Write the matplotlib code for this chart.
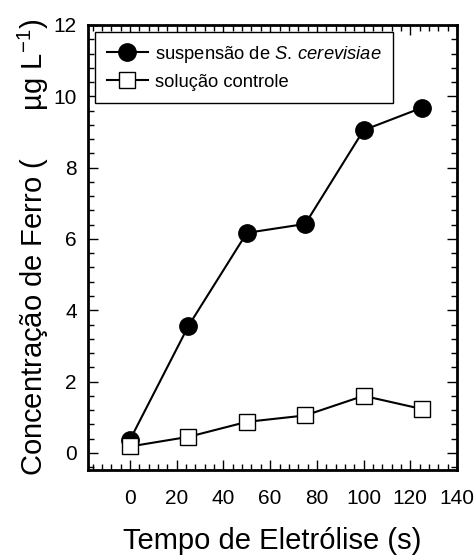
import matplotlib
matplotlib.use("Agg")
import matplotlib.pyplot as plt
from matplotlib.ticker import MultipleLocator

plt.rcParams['font.family'] = ['Liberation Sans', 'DejaVu Sans']
plt.rcParams['mathtext.fontset'] = 'custom'
plt.rcParams['mathtext.rm'] = 'Liberation Sans'
plt.rcParams['mathtext.it'] = 'Liberation Sans:italic'

tempo = [0, 25, 50, 75, 100, 125]
suspensao = [0.37, 3.56, 6.17, 6.42, 9.05, 9.68]
controle = [0.18, 0.45, 0.87, 1.05, 1.6, 1.23]
x_ticks = [0, 20, 40, 60, 80, 100, 120, 140]
y_ticks = [0, 2, 4, 6, 8, 10, 12]

fig = plt.figure(figsize=(4.75, 5.58), dpi=100)
ax = fig.add_axes([0.1853, 0.1577, 0.9621 - 0.1853, 0.9552 - 0.1577])

ax.plot(tempo, suspensao, color='black', lw=1.5, marker='o', ms=12.5,
        mfc='black', mec='black', label=r"suspensão de $\mathit{S.\,cerevisiae}$", zorder=3)
ax.plot(tempo, controle, color='black', lw=1.5, marker='s', ms=12,
        mfc='white', mec='black', mew=1.0, label="solução controle", zorder=4)

ax.set_xlim(-18, 140)
ax.set_ylim(-0.48, 12)
ax.set_xticks(x_ticks)
ax.set_yticks(y_ticks)
ax.xaxis.set_minor_locator(MultipleLocator(4))
ax.yaxis.set_minor_locator(MultipleLocator(0.4))
ax.tick_params(which='both', direction='in', top=True, right=True, width=1.0)
ax.tick_params(which='major', length=7, labelsize=15)
ax.tick_params(axis='x', which='major', pad=14)
ax.tick_params(axis='y', which='major', pad=8)
ax.tick_params(which='minor', length=4)
for s in ax.spines.values():
    s.set_linewidth(2.0)

ax.set_xlabel("Tempo de Eletrólise (s)", fontsize=21, labelpad=13)
ax.set_ylabel(r"Concentração de Ferro (      µg L$^{-1}$)", fontsize=21, labelpad=2)

leg = ax.legend(loc='upper left', bbox_to_anchor=(0.02, 0.985), fontsize=13.2,
                frameon=True, fancybox=False, edgecolor='black', framealpha=1,
                handlelength=2.2, handletextpad=0.4, borderpad=0.65, labelspacing=0.5,
                borderaxespad=0.0)
leg.get_frame().set_linewidth(1.0)

fig.savefig("out.png", dpi=100)
